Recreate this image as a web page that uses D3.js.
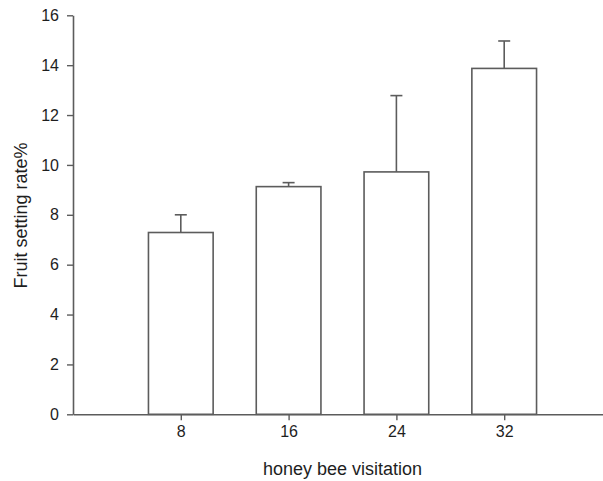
<!DOCTYPE html>
<html>
<head>
<meta charset="utf-8">
<script src="https://cdn.jsdelivr.net/npm/d3@7"></script>
<style>
  html, body { margin: 0; padding: 0; background: #fff; }
  svg { display: block; }
  text { font-family: "Liberation Sans", Arial, Helvetica, sans-serif; fill: #1e1e1e; }
</style>
</head>
<body>
<svg id="chart" width="603" height="481"></svg>
<script>
// Honey bee visitation vs. fruit setting rate (mean with upper error bar)
const visitation = [8, 16, 24, 32];
const fruitSetting = [7.29, 9.13, 9.72, 13.87];
const errorTop = [8.0, 9.29, 12.78, 14.97];
const yTicks = [0, 2, 4, 6, 8, 10, 12, 14, 16];

const svg = d3.select("#chart");
const stroke = "#5c5c5c";

const x = d3.scaleLinear().domain([0, 40]).range([73, 612]);
const y = d3.scaleLinear().domain([0, 16]).range([414.3, 15.3]);
const barUnits = 4.8;

// bars
svg.append("g").selectAll("rect")
  .data(visitation)
  .join("rect")
  .attr("x", (d) => x(d - barUnits / 2))
  .attr("width", x(barUnits) - x(0))
  .attr("y", (d, i) => y(fruitSetting[i]))
  .attr("height", (d, i) => y(0) - y(fruitSetting[i]))
  .attr("fill", "#fff")
  .attr("stroke", stroke)
  .attr("stroke-width", 1.6);

// upper error bars
const err = svg.append("g").attr("stroke", stroke).attr("stroke-width", 1.6);
err.selectAll("line.stem")
  .data(visitation)
  .join("line")
  .attr("class", "stem")
  .attr("x1", (d) => x(d)).attr("x2", (d) => x(d))
  .attr("y1", (d, i) => y(fruitSetting[i]))
  .attr("y2", (d, i) => y(errorTop[i]));
err.selectAll("line.cap")
  .data(visitation)
  .join("line")
  .attr("class", "cap")
  .attr("x1", (d) => x(d) - 6).attr("x2", (d) => x(d) + 6)
  .attr("y1", (d, i) => y(errorTop[i]))
  .attr("y2", (d, i) => y(errorTop[i]));

// x axis
const xAxis = svg.append("g")
  .attr("transform", `translate(0,${y(0)})`)
  .call(d3.axisBottom(x).tickValues(visitation).tickSize(6).tickSizeOuter(0).tickPadding(5));
xAxis.select(".domain").attr("stroke", stroke).attr("stroke-width", 1.6);
xAxis.selectAll(".tick line").attr("stroke", stroke).attr("stroke-width", 1.4);
xAxis.selectAll(".tick text").attr("font-size", 16).attr("fill", "#1e1e1e")
  .style("font-family", "'Liberation Sans', Arial, sans-serif");

// y axis
const yAxis = svg.append("g")
  .attr("transform", `translate(${x(0)},0)`)
  .call(d3.axisLeft(y).tickValues(yTicks).tickSize(6).tickSizeOuter(0).tickPadding(8));
yAxis.select(".domain").attr("stroke", stroke).attr("stroke-width", 1.6);
yAxis.selectAll(".tick line").attr("stroke", stroke).attr("stroke-width", 1.4);
yAxis.selectAll(".tick text").attr("font-size", 16).attr("fill", "#1e1e1e")
  .style("font-family", "'Liberation Sans', Arial, sans-serif");

// axis titles
svg.append("text")
  .attr("x", 342.5).attr("y", 475)
  .attr("text-anchor", "middle")
  .attr("font-size", 18)
  .text("honey bee visitation");

svg.append("text")
  .attr("transform", "translate(27,215.5) rotate(-90)")
  .attr("text-anchor", "middle")
  .attr("font-size", 18)
  .text("Fruit setting rate%");
</script>
</body>
</html>
